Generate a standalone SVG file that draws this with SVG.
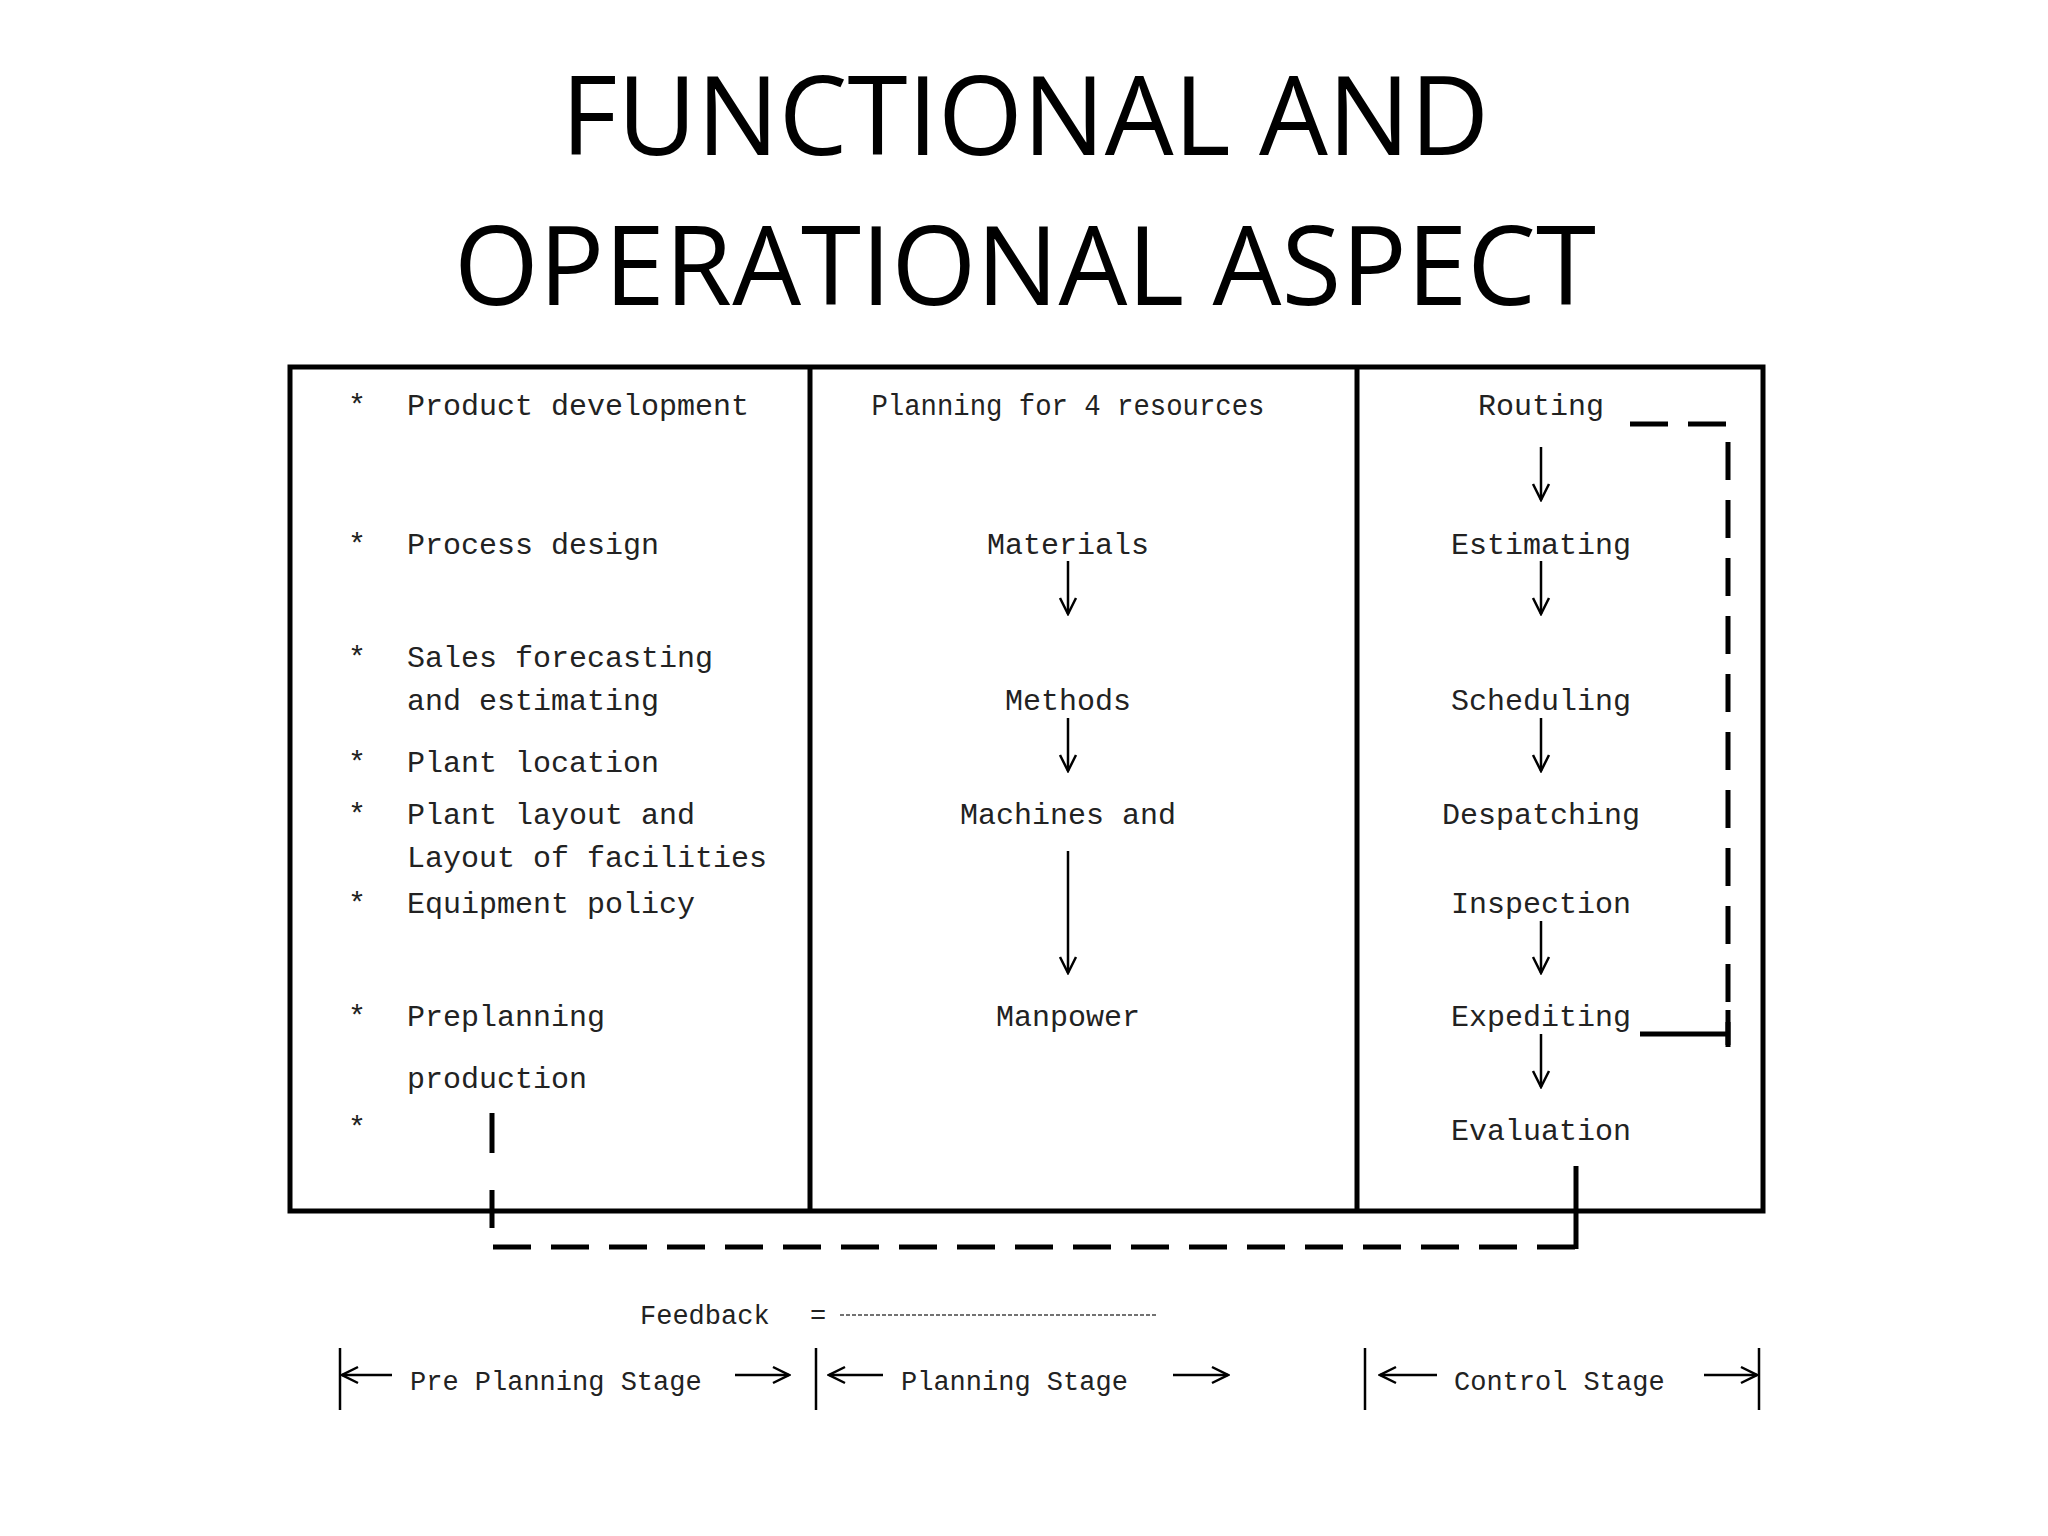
<svg xmlns="http://www.w3.org/2000/svg" width="2048" height="1536" viewBox="0 0 2048 1536">
<style>
.t{font-family:"Liberation Mono","DejaVu Sans Mono",monospace;font-size:30px;fill:#222}
.s{font-size:27px}
.c{text-anchor:middle}
.ttl{font-family:"Open Sans","Liberation Sans",sans-serif;font-size:109px;fill:#000;text-anchor:middle}
.ln{stroke:#000;stroke-width:2.5;fill:none}
.bx{stroke:#000;stroke-width:5;fill:none}
.dsh{stroke:#000;stroke-width:5;fill:none;stroke-dasharray:38,20}
</style>
<defs>
<marker id="ah" viewBox="0 0 20 20" refX="18" refY="10" markerWidth="20" markerHeight="20" markerUnits="userSpaceOnUse" orient="auto">
<polyline points="2,2 18,10 2,18" fill="none" stroke="#000" stroke-width="2.5"/>
</marker>
</defs>
<rect width="2048" height="1536" fill="#fff"/>
<g id="title">
<text class="ttl" x="1025" y="155">FUNCTIONAL AND</text>
<text class="ttl" x="1025" y="305">OPERATIONAL ASPECT</text>
</g>
<g id="frame">
<rect class="bx" x="290" y="367" width="1473" height="844"/>
<line class="bx" x1="810" y1="367" x2="810" y2="1211"/>
<line class="bx" x1="1357" y1="367" x2="1357" y2="1211"/>
</g>
<g id="preplanning">
<text class="t" x="348" y="415">*</text><text class="t" x="407" y="415">Product development</text>
<text class="t" x="348" y="554">*</text><text class="t" x="407" y="554">Process design</text>
<text class="t" x="348" y="667">*</text><text class="t" x="407" y="667">Sales forecasting</text>
<text class="t" x="407" y="710">and estimating</text>
<text class="t" x="348" y="772">*</text><text class="t" x="407" y="772">Plant location</text>
<text class="t" x="348" y="824">*</text><text class="t" x="407" y="824">Plant layout and</text>
<text class="t" x="407" y="867">Layout of facilities</text>
<text class="t" x="348" y="913">*</text><text class="t" x="407" y="913">Equipment policy</text>
<text class="t" x="348" y="1026">*</text><text class="t" x="407" y="1026">Preplanning</text>
<text class="t" x="407" y="1088">production</text>
<text class="t" x="348" y="1137">*</text>
</g>
<g id="planning">
<text class="t c" x="1068" y="415" textLength="393" lengthAdjust="spacingAndGlyphs">Planning for 4 resources</text>
<text class="t c" x="1068" y="554">Materials</text>
<text class="t c" x="1068" y="710">Methods</text>
<text class="t c" x="1068" y="824">Machines and</text>
<text class="t c" x="1068" y="1026">Manpower</text>
</g>
<g id="control">
<text class="t c" x="1541" y="415">Routing</text>
<text class="t c" x="1541" y="554">Estimating</text>
<text class="t c" x="1541" y="710">Scheduling</text>
<text class="t c" x="1541" y="824">Despatching</text>
<text class="t c" x="1541" y="913">Inspection</text>
<text class="t c" x="1541" y="1026">Expediting</text>
<text class="t c" x="1541" y="1140">Evaluation</text>
</g>
<g id="connectors">
<line class="ln" x1="1068" y1="561" x2="1068" y2="614" marker-end="url(#ah)"/>
<line class="ln" x1="1068" y1="718" x2="1068" y2="771" marker-end="url(#ah)"/>
<line class="ln" x1="1068" y1="851" x2="1068" y2="973" marker-end="url(#ah)"/>
<line class="ln" x1="1541" y1="447" x2="1541" y2="500" marker-end="url(#ah)"/>
<line class="ln" x1="1541" y1="561" x2="1541" y2="614" marker-end="url(#ah)"/>
<line class="ln" x1="1541" y1="718" x2="1541" y2="771" marker-end="url(#ah)"/>
<line class="ln" x1="1541" y1="921" x2="1541" y2="973" marker-end="url(#ah)"/>
<line class="ln" x1="1541" y1="1034" x2="1541" y2="1087" marker-end="url(#ah)"/>
<polyline class="dsh" points="1630,424 1728,424 1728,1045"/>
<line class="bx" x1="1640" y1="1034" x2="1728" y2="1034"/>
<line class="bx" x1="1728" y1="1010" x2="1728" y2="1047"/>
<line class="bx" x1="492" y1="1113" x2="492" y2="1153"/>
<polyline class="dsh" points="492,1190 492,1247 1576,1247"/>
<line class="bx" x1="1576" y1="1166" x2="1576" y2="1249"/>
</g>
<g id="legend">
<text class="t s" x="640" y="1324">Feedback</text>
<text class="t s" x="810" y="1324">=</text>
<line x1="840" y1="1315" x2="1158" y2="1315" stroke="#444" stroke-width="1.5" stroke-dasharray="4,2"/>
<line class="ln" x1="340" y1="1348" x2="340" y2="1410"/>
<line class="ln" x1="816" y1="1348" x2="816" y2="1410"/>
<line class="ln" x1="1365" y1="1348" x2="1365" y2="1410"/>
<line class="ln" x1="1759" y1="1348" x2="1759" y2="1410"/>
<line class="ln" x1="392" y1="1375" x2="342" y2="1375" marker-end="url(#ah)"/>
<text class="t s" x="410" y="1390">Pre Planning Stage</text>
<line class="ln" x1="735" y1="1375" x2="789" y2="1375" marker-end="url(#ah)"/>
<line class="ln" x1="883" y1="1375" x2="829" y2="1375" marker-end="url(#ah)"/>
<text class="t s" x="901" y="1390">Planning Stage</text>
<line class="ln" x1="1173" y1="1375" x2="1228" y2="1375" marker-end="url(#ah)"/>
<line class="ln" x1="1437" y1="1375" x2="1380" y2="1375" marker-end="url(#ah)"/>
<text class="t s" x="1454" y="1390">Control Stage</text>
<line class="ln" x1="1704" y1="1375" x2="1757" y2="1375" marker-end="url(#ah)"/>
</g>
</svg>
